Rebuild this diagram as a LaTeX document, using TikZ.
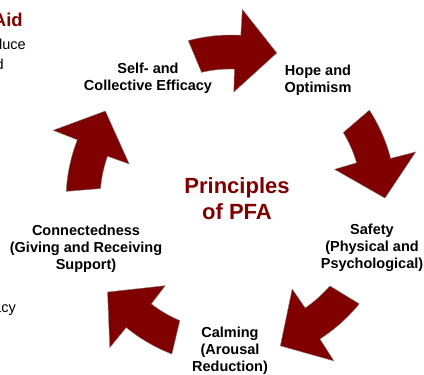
\documentclass[tikz,border=0pt]{standalone}
\usepackage{fontspec}
\setmainfont{Liberation Sans}
\definecolor{pfared}{HTML}{800000}

\begin{document}
\begin{tikzpicture}[x=1pt, y=1pt,
    stage/.style={font=\bfseries\fontsize{14.5}{17}\selectfont, align=center, inner sep=0pt},
    frag/.style={anchor=base east, inner sep=0pt, font=\fontsize{14.5}{17}\selectfont},
    pfaarrow/.style={fill=pfared, draw=black!50, line width=0.4pt}]
    \useasboundingbox (0,0) rectangle (424,375);

    % Nodes
    \node (title) at (237,176) [text=pfared, font=\bfseries\fontsize{22}{26}\selectfont, align=center, inner sep=0pt] {Principles\\of PFA};
    \node (self) at (148,297) [stage] {Self- and\\Collective Efficacy};
    \node (hope) at (318,295) [stage] {Hope and\\Optimism};
    \node (safety) at (372,127) [stage] {Safety\\(Physical and\\Psychological)};
    \node (calming) at (230,24) [stage] {Calming\\(Arousal\\Reduction)};
    \node (connect) at (86,126) [stage] {Connectedness\\(Giving and Receiving\\Support)};

    % Cut-off slide text on the left
    \node (aid) at (23,348) [anchor=base east, inner sep=0pt, text=pfared, font=\bfseries\fontsize{18.5}{22}\selectfont] {Aid};
    \node (reduce) at (26,325) [frag] {luce};
    \node (and) at (4,305) [frag] {d};
    \node (efficacy) at (16,62) [frag] {acy};

    % Arrows
    \begin{scope}[shift={(231,175)}]
      \foreach \a in {72,0,-72,-144,-216}
        \draw[pfaarrow] ({\a+33}:165) arc[start angle=\a+33, end angle=\a+14.6, radius=165]
          -- ({\a+14.6}:191) -- ({\a+0.7}:154) -- ({\a+16.5}:108) -- ({\a+16.5}:131)
          arc[start angle=\a+16.5, end angle=\a+31, radius=131] -- cycle;
    \end{scope}
\end{tikzpicture}
\end{document}
